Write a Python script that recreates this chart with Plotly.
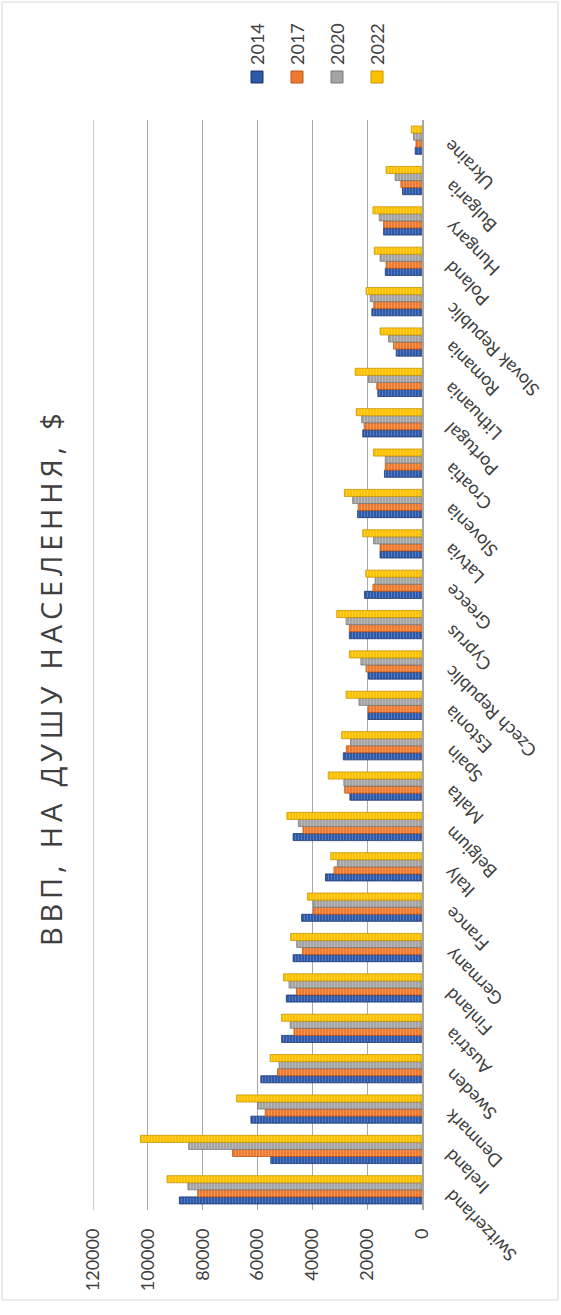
import plotly.graph_objects as go

# GDP per capita, USD, by country (bottom to top)
countries = ["Switzerland", "Ireland", "Denmark", "Sweden", "Austria", "Finland",
             "Germany", "France", "Italy", "Belgium", "Malta", "Spain", "Estonia",
             "Czech Republic", "Cyprus", "Greece", "Latvia", "Slovenia", "Croatia",
             "Portugal", "Lithuania", "Romania", "Slovak Republic", "Poland",
             "Hungary", "Bulgaria", "Ukraine"]

gdp_2014 = [88500, 55150, 62400, 58800, 51200, 49500, 47000, 43900, 35200, 47000,
            26300, 28700, 19600, 19500, 26500, 21000, 15300, 23500, 13700, 21600,
            16100, 9400, 18300, 13400, 14000, 7100, 2500]
gdp_2017 = [81800, 69100, 57200, 52700, 46700, 45800, 43600, 39600, 32100, 43400,
            28200, 27600, 19600, 20400, 26500, 17900, 15300, 23300, 13400, 21100,
            16500, 10400, 17600, 13100, 14000, 7700, 2200]
gdp_2020 = [85400, 85100, 60000, 52100, 48100, 48500, 45700, 39600, 30900, 45100,
            28500, 26100, 23000, 22300, 27700, 17100, 17700, 25300, 13400, 22000,
            19500, 12200, 18900, 15300, 15600, 9800, 3100]
gdp_2022 = [93000, 102700, 67600, 55400, 51200, 50500, 47900, 41800, 33300, 49300,
            34200, 29300, 27700, 26500, 31100, 20500, 21600, 28300, 17700, 24000,
            24400, 15300, 20400, 17400, 17900, 13100, 3900]

years = ["2014", "2017", "2020", "2022"]
value_ticks = [0, 20000, 40000, 60000, 80000, 100000, 120000]
title_text = "ВВП, НА ДУШУ НАСЕЛЕННЯ, $"

series = [gdp_2014, gdp_2017, gdp_2020, gdp_2022]
fills = ["#2E58A8", "#EE7A30", "#A3A3A3", "#FFC000"]
stripes = ["#7F9FD8", "#F8B88A", "#D6D6D6", "#FFE17A"]
edges = ["#1B3570", "#B9561A", "#7A7A7A", "#C79400"]

W, H = 561, 1315
L, R, T, B = 93, 139, 120, 105


def px_x(px):
    return (px - L) / (W - L - R)


def px_y(py):
    return (H - B - py) / (H - T - B)


FONT = "Lato, 'Open Sans', sans-serif"
TITLE_FONT = "'Open Sans', 'Noto Sans', sans-serif"
TXT = "#404040"

fig = go.Figure()
for yr, vals, fc, sc, ec in zip(years, series, fills, stripes, edges):
    fig.add_trace(go.Bar(
        y=countries, x=vals, name=yr, orientation="h",
        marker=dict(color=fc, line=dict(color=ec, width=0.8),
                    pattern=dict(shape="|", fillmode="overlay", fgcolor=sc,
                                 size=3, solidity=0.35)),
        showlegend=False,
    ))

# category labels, rotated
annotations = []
for c in countries:
    annotations.append(dict(
        x=px_x(437), xref="paper", y=c, yref="y", yshift=7,
        text=c, textangle=-135, showarrow=False,
        xanchor="left", yanchor="top",
        font=dict(family=FONT, size=18, color=TXT),
    ))

# legend drawn as rotated labels with swatches
leg_x = [257, 297, 337, 377]
shapes = []
for yr, lx, fc, ec in zip(years, leg_x, fills, edges):
    annotations.append(dict(
        x=px_x(lx), xref="paper", y=px_y(67), yref="paper",
        text=yr, textangle=-90, showarrow=False,
        xanchor="center", yanchor="bottom",
        font=dict(family=FONT, size=18, color=TXT),
    ))
    shapes.append(dict(
        type="rect", xref="paper", yref="paper",
        x0=px_x(lx - 6), x1=px_x(lx + 6), y0=px_y(83), y1=px_y(71),
        fillcolor=fc, line=dict(color=ec, width=1),
    ))

# chart title, letter-spaced with thin spaces
spaced_title = "\u2009".join(title_text)
annotations.append(dict(
    x=px_x(50), xref="paper", y=px_y(680), yref="paper",
    text=spaced_title, textangle=-90, showarrow=False,
    xanchor="center", yanchor="middle",
    font=dict(family=TITLE_FONT, size=29, color=TXT),
))

# gridline at the far end of the value axis
shapes.append(dict(
    type="line", xref="x", yref="paper", x0=120000, x1=120000, y0=0, y1=1,
    line=dict(color="#A8A8A8", width=1.2), layer="below",
))

# outer chart border
shapes.append(dict(
    type="rect", xref="paper", yref="paper",
    x0=px_x(2), x1=px_x(558), y0=px_y(1300), y1=px_y(2),
    line=dict(color="#D9D9D9", width=1), fillcolor="rgba(0,0,0,0)", layer="below",
))

fig.update_layout(
    width=W, height=H,
    margin=dict(l=L, r=R, t=T, b=B),
    paper_bgcolor="white", plot_bgcolor="white",
    barmode="group", bargap=0.3, bargroupgap=0,
    annotations=annotations, shapes=shapes,
    xaxis=dict(
        range=[120000, 0], tickvals=value_ticks,
        ticktext=[str(v) for v in value_ticks],
        tickangle=-90, ticklabelstandoff=14,
        tickfont=dict(family=FONT, size=18, color=TXT),
        showgrid=True, gridcolor="#A8A8A8", gridwidth=1.2,
        zeroline=False, showline=False, ticks="",
    ),
    yaxis=dict(
        range=[-0.5, len(countries) - 0.5], side="right",
        showticklabels=False, showgrid=False, zeroline=False,
        showline=True, linecolor="#A6A6A6", linewidth=1.5, ticks="",
    ),
)

fig.write_html("out.html")
